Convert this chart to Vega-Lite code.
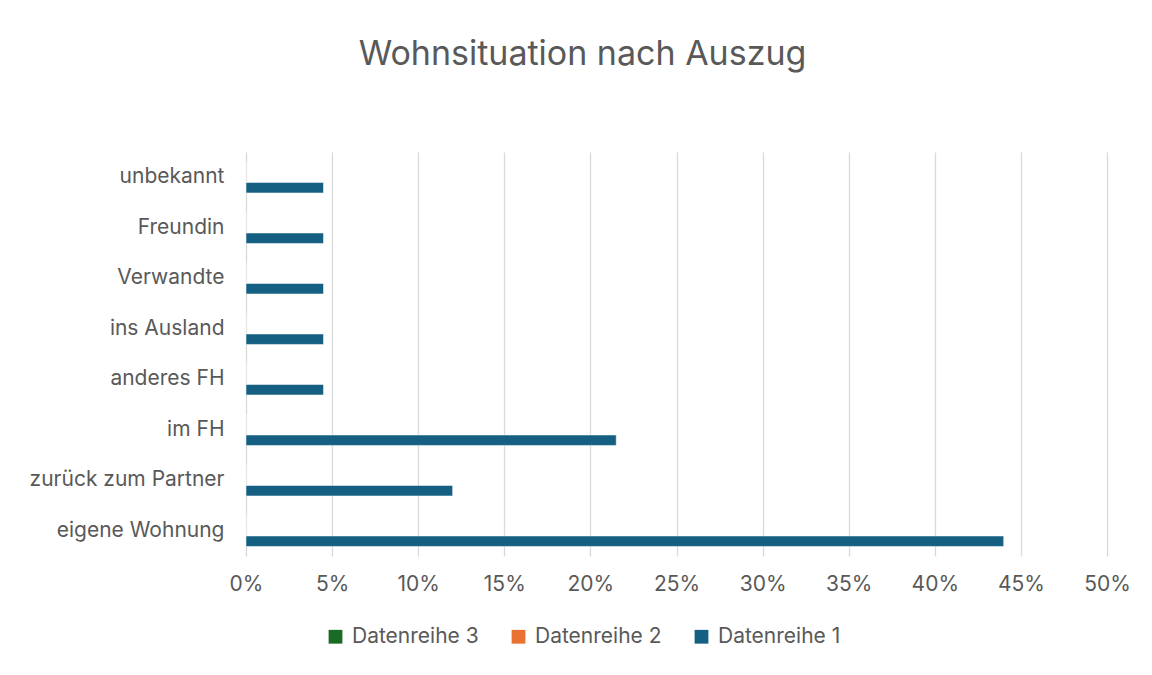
{
  "$schema": "https://vega.github.io/schema/vega-lite/v6.json",
  "width": 861,
  "height": 404,
  "autosize": {"type": "none"},
  "padding": {"left": 246, "top": 152, "right": 45, "bottom": 119},
  "background": "#ffffff",
  "title": {
    "text": "Wohnsituation nach Auszug",
    "font": "Inter",
    "fontSize": 34,
    "fontWeight": "normal",
    "color": "#595959",
    "anchor": "middle",
    "frame": "group",
    "dx": -94,
    "offset": 80
  },
  "data": {
    "values": [
      {"kategorie": "unbekannt", "reihe": "Datenreihe 1", "wert": 0.045},
      {"kategorie": "unbekannt", "reihe": "Datenreihe 2", "wert": 0},
      {"kategorie": "unbekannt", "reihe": "Datenreihe 3", "wert": 0},
      {"kategorie": "Freundin", "reihe": "Datenreihe 1", "wert": 0.045},
      {"kategorie": "Freundin", "reihe": "Datenreihe 2", "wert": 0},
      {"kategorie": "Freundin", "reihe": "Datenreihe 3", "wert": 0},
      {"kategorie": "Verwandte", "reihe": "Datenreihe 1", "wert": 0.045},
      {"kategorie": "Verwandte", "reihe": "Datenreihe 2", "wert": 0},
      {"kategorie": "Verwandte", "reihe": "Datenreihe 3", "wert": 0},
      {"kategorie": "ins Ausland", "reihe": "Datenreihe 1", "wert": 0.045},
      {"kategorie": "ins Ausland", "reihe": "Datenreihe 2", "wert": 0},
      {"kategorie": "ins Ausland", "reihe": "Datenreihe 3", "wert": 0},
      {"kategorie": "anderes FH", "reihe": "Datenreihe 1", "wert": 0.045},
      {"kategorie": "anderes FH", "reihe": "Datenreihe 2", "wert": 0},
      {"kategorie": "anderes FH", "reihe": "Datenreihe 3", "wert": 0},
      {"kategorie": "im FH", "reihe": "Datenreihe 1", "wert": 0.215},
      {"kategorie": "im FH", "reihe": "Datenreihe 2", "wert": 0},
      {"kategorie": "im FH", "reihe": "Datenreihe 3", "wert": 0},
      {"kategorie": "zurück zum Partner", "reihe": "Datenreihe 1", "wert": 0.12},
      {"kategorie": "zurück zum Partner", "reihe": "Datenreihe 2", "wert": 0},
      {"kategorie": "zurück zum Partner", "reihe": "Datenreihe 3", "wert": 0},
      {"kategorie": "eigene Wohnung", "reihe": "Datenreihe 1", "wert": 0.44},
      {"kategorie": "eigene Wohnung", "reihe": "Datenreihe 2", "wert": 0},
      {"kategorie": "eigene Wohnung", "reihe": "Datenreihe 3", "wert": 0}
    ]
  },
  "mark": {"type": "bar", "stroke": "#ffffff", "strokeWidth": 0.5},
  "encoding": {
    "y": {
      "field": "kategorie",
      "type": "nominal",
      "sort": ["unbekannt", "Freundin", "Verwandte", "ins Ausland", "anderes FH", "im FH", "zurück zum Partner", "eigene Wohnung"],
      "scale": {"paddingInner": 0, "paddingOuter": 0},
      "axis": {
        "title": null,
        "domain": false,
        "ticks": false,
        "grid": false,
        "labelFont": "Inter",
        "labelFontSize": 21,
        "labelColor": "#595959",
        "labelPadding": 22,
        "labelLimit": 300
      }
    },
    "yOffset": {
      "field": "reihe",
      "type": "nominal",
      "sort": ["Datenreihe 3", "Datenreihe 2", "Datenreihe 1"],
      "scale": {"paddingInner": 0, "paddingOuter": 0.91}
    },
    "x": {
      "field": "wert",
      "type": "quantitative",
      "scale": {"domain": [0, 0.5], "nice": false},
      "axis": {
        "title": null,
        "values": [0, 0.05, 0.1, 0.15, 0.2, 0.25, 0.3, 0.35, 0.4, 0.45, 0.5],
        "format": ".0%",
        "domain": false,
        "ticks": false,
        "grid": true,
        "gridColor": "#d9d9d9",
        "gridWidth": 1.3,
        "labelFont": "Inter",
        "labelFontSize": 21,
        "labelColor": "#595959",
        "labelPadding": 17,
        "labelFlush": false
      }
    },
    "color": {
      "field": "reihe",
      "type": "nominal",
      "sort": ["Datenreihe 3", "Datenreihe 2", "Datenreihe 1"],
      "scale": {
        "domain": ["Datenreihe 3", "Datenreihe 2", "Datenreihe 1"],
        "range": ["#196B24", "#E97132", "#156082"]
      },
      "legend": {
        "title": null,
        "orient": "none",
        "direction": "horizontal",
        "legendX": 79,
        "legendY": 474,
        "symbolType": "square",
        "symbolSize": 190,
        "symbolStrokeWidth": 0,
        "labelFont": "Inter",
        "labelFontSize": 21,
        "labelColor": "#595959",
        "labelOffset": 6,
        "columnPadding": 29,
        "labelLimit": 300
      }
    }
  },
  "config": {
    "view": {"stroke": null}
  }
}
